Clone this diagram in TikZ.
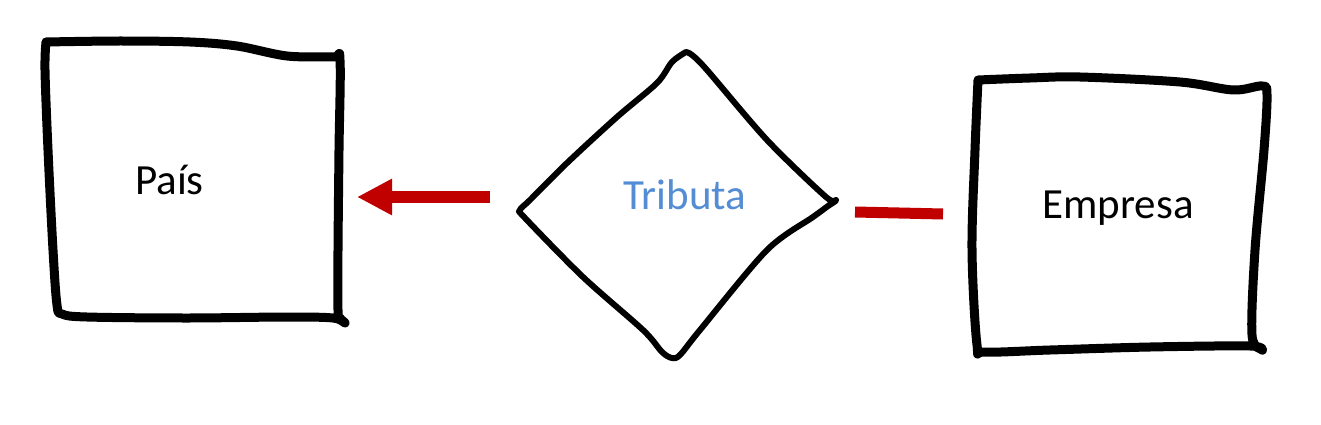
\documentclass[tikz,border=0pt]{standalone}
\usepackage{fontspec}
\setmainfont{Carlito}
\usetikzlibrary{arrows.meta}
\definecolor{darkred}{RGB}{192,0,0}
\definecolor{tribblue}{RGB}{84,141,212}
\tikzset{
  sketchbox/.style={line width=9pt, line cap=round, line join=round},
  sketchdia/.style={line width=6pt, line cap=round, line join=round},
  label/.style={inner sep=0pt, anchor=base, font=\fontsize{43}{46}\selectfont},
  redarrow/.style={draw=darkred, line width=12pt, -{Triangle[length=35pt,width=34pt]}},
  redline/.style={draw=darkred, line width=11pt}
}
\begin{document}
\begin{tikzpicture}[x=1pt,y=-1pt]
\useasboundingbox (0,0) rectangle (1321,425);
% left box (Pais)
\draw[sketchbox] plot[smooth, tension=0.55] coordinates {
  (46,42) (120,41) (190,42) (237,46) (287,56) (333,57) (340,60)
  (339,150) (338,250) (338,310) (340,318) (345,323)
  (333,318) (287,317) (187,318) (87,317) (62,314) (57,305)
  (53,250) (48,150) (45,70) (46,42)};
% right box (Empresa)
\draw[sketchbox] plot[smooth, tension=0.55] coordinates {
  (978,80) (1030,78) (1080,77) (1180,82) (1233,90) (1262,86) (1267,95)
  (1264,150) (1255,250) (1252,335) (1262,350)
  (1250,346) (1150,347) (1050,350) (985,352) (977,345)
  (972,250) (975,150) (978,80)};
% diamond (Tributa)
\draw[sketchdia] plot[smooth, tension=0.5] coordinates {
  (686,52) (672,62) (657,83) (617,117) (567,163) (530,200) (520,210)
  (525,218) (583,277) (643,330) (662,352) (672,358) (680,355)
  (700,330) (767,250) (813,217) (828,206) (836,200)
  (826,197) (767,140) (707,70) (692,55) (686,52)};
% labels
\node[label] (pais) at (169.5,194.3) {País};
\node[label, text=tribblue] (tributa) at (685,209.3) {Tributa};
\node[label] (empresa) at (1118,218.3) {Empresa};
% connectors
\coordinate (arrStart) at (490,197);
\coordinate (arrEnd) at (357,197);
\coordinate (lnStart) at (855,212);
\coordinate (lnEnd) at (943,214);
\draw[redarrow] (arrStart) -- (arrEnd);
\draw[redline] (lnStart) -- (lnEnd);
\end{tikzpicture}
\end{document}
